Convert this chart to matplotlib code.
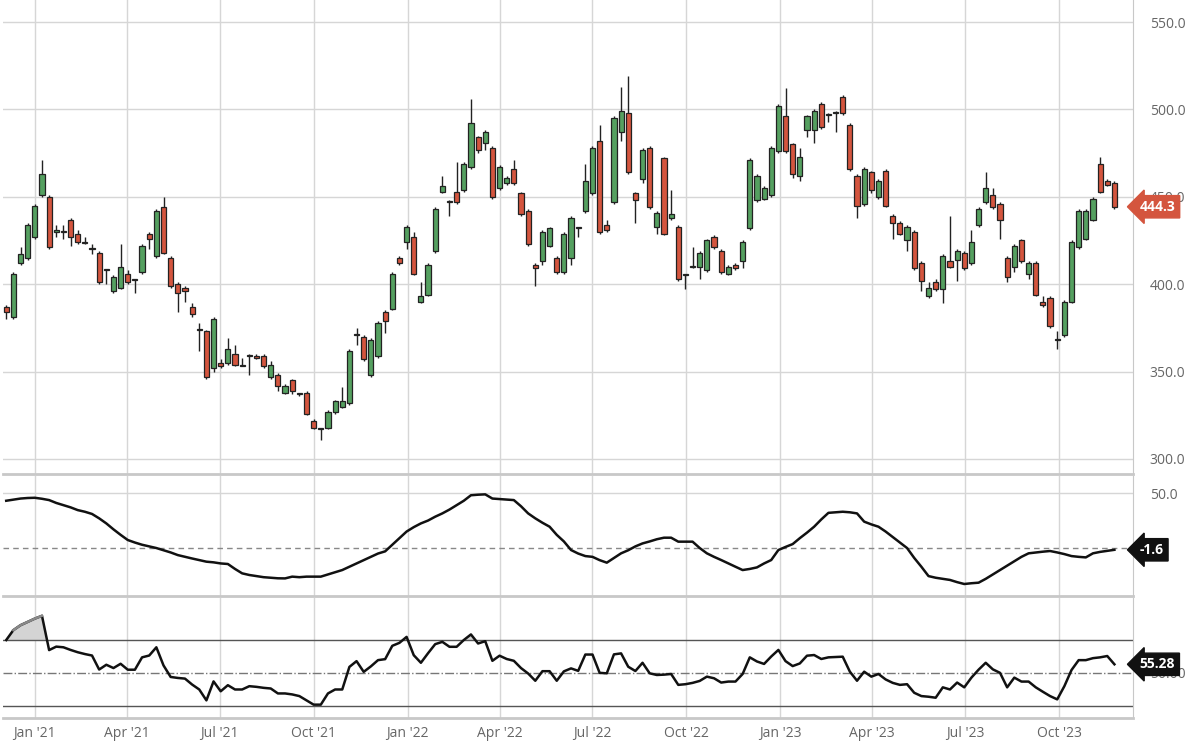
import numpy as np
import pandas as pd
import matplotlib
import matplotlib.pyplot as plt

matplotlib.use("Agg")
plt.rcParams["font.family"] = "Open Sans"

# weekly candles, first bar week of 2020-12-04
START = "2020-12-04"
opens = [387, 381, 412, 415, 427, 451, 450, 430, 430, 437, 429, 423.5, 420, 418, 408, 396, 398, 406, 402.5, 407,
         429, 416, 444, 415, 400, 398, 387, 374, 373, 352, 355, 355, 360, 353, 359, 359, 359, 347, 348, 338,
         345, 337, 338, 322, 317, 318, 327, 330, 332, 371, 370, 348, 359, 384, 386, 415, 424, 427, 390, 394,
         419, 453, 447, 453, 454, 467, 484, 481, 478, 455, 458, 466, 452, 442, 411, 413, 422, 415, 407, 415,
         432, 442, 452, 482, 434, 447, 487, 498, 452, 460, 478, 433, 472, 438, 433, 405, 410, 410, 408, 427,
         419, 406, 411, 413, 432, 448, 449, 451, 476, 496, 480, 462, 488, 488, 503, 497, 498, 507, 491, 462,
         446, 464, 450, 465, 439, 435, 425, 430, 412, 393, 401, 397, 413, 414, 418, 412, 434, 447, 451, 446,
         415, 410, 425, 406, 412, 390, 392, 368, 371, 390, 421, 426, 437, 469, 459, 458]
closes = [384, 406, 417, 434, 445, 463, 421, 431, 430.5, 427, 424, 423, 420.5, 401, 407.5, 404, 410, 401, 402, 422,
          426, 442, 418, 399, 395, 396, 383, 374.5, 347, 380, 353, 363, 354, 353.5, 359.5, 358, 353, 354, 342, 342,
          339, 337.5, 326, 318, 317.5, 327, 333, 333, 362, 371.5, 357, 368, 378, 379, 406, 412, 433, 406, 393, 411,
          443, 456, 447.5, 447, 469, 492, 477, 487, 450, 467, 461, 458, 440, 423, 409, 430, 432, 407, 429, 438,
          432.5, 459, 478, 430, 431, 495, 499, 464, 448, 477, 444, 441, 429, 440, 403, 405.5, 410.5, 418, 425, 421,
          407, 410, 409, 424, 471, 462, 455, 478, 502, 476, 463, 473, 496, 499, 490, 497.5, 498.5, 498, 466, 445,
          466, 454, 459, 445, 435, 429, 433, 409, 402, 398, 397, 416, 410, 419, 409, 424, 443, 455, 444, 437,
          404, 422, 413, 412, 394, 388, 376, 368.5, 390, 424, 442, 442, 449, 453, 457, 444.3]
highs = [388, 407, 421, 435, 446, 471, 451, 434, 434, 438, 431, 427, 423, 419, 408.5, 405, 423, 408, 402.5, 423,
         430, 443, 450, 416, 401, 399, 389, 378, 374, 381, 357, 369, 365, 358, 360, 360, 360, 356, 349, 343,
         346, 338, 339, 323, 318, 328, 334, 341, 363, 375, 371, 369, 379, 385, 407, 416, 434, 430, 401, 412,
         444, 462, 448, 470, 470, 506, 485, 488, 479, 468, 462, 471, 453, 443, 412, 431, 433, 416, 430, 439,
         433, 469, 479, 491, 437, 496, 513, 519, 453, 478, 479, 442, 473, 454, 434, 406, 421, 419, 426, 428,
         420, 411, 412, 425, 472, 463, 456, 479, 503, 512, 481, 478, 497, 500, 504, 498, 499, 508, 492, 463,
         467, 465, 460, 466, 440, 436, 434, 431, 413, 401, 403, 417, 439, 420, 419, 431, 444, 464, 455, 447,
         416, 423, 426, 413, 413, 393, 393, 373, 391, 425, 443, 443, 450, 473, 460, 459]
lows = [380, 380, 411, 414, 426, 450, 420, 427, 426, 422, 423, 423, 417, 400, 400, 395, 397, 400, 395, 406,
        420, 415, 417, 398, 384, 390, 381, 362, 346, 350, 352, 354, 353, 353, 348, 357, 352, 346, 339, 337,
        337, 336, 325, 317, 311, 317, 326, 329, 331, 365, 356, 347, 358, 372, 385, 411, 420, 405, 389, 393,
        418, 452, 439, 446, 453, 466, 475, 477, 449, 454, 457, 457, 439, 422, 399, 411, 421, 406, 406, 411,
        427, 441, 451, 429, 430, 446, 482, 463, 435, 458, 443, 429, 428, 437, 402, 397, 409, 403, 407, 420,
        406, 405, 408, 409, 431, 447, 448, 450, 475, 475, 461, 459, 484, 481, 489, 493, 487, 497, 465, 438,
        445, 452, 449, 444, 426, 428, 419, 408, 396, 392, 396, 389, 409, 402, 408, 411, 433, 446, 443, 426,
        401, 407, 412, 403, 393, 387, 375, 363, 370, 389, 420, 425, 436, 452, 456, 443]

# middle panel oscillator (weekly)
osc = [43, 44, 45, 45.5, 45.7, 44.8, 43.6, 41, 39, 37, 34.5, 33, 31, 27, 22.4, 17, 12, 7.3, 5, 3,
       1.5, 0, -2, -4, -6.4, -8, -9.5, -11, -12.4, -13, -14, -14.5, -19, -23, -24.5, -25.5, -26.5, -27, -27.5, -27.6,
       -26, -26.5, -26, -26, -26, -24, -22, -20, -17, -14, -11, -8, -5, -3, 3, 9, 15, 19, 22.4, 25,
       28.5, 31.5, 35, 39, 43, 48, 48.5, 48.8, 45, 44.5, 44, 43.6, 38, 31.5, 27, 23, 19.4, 12, 6, -1.8,
       -5, -7.3, -8, -11, -13.3, -9, -4.8, -2, 1.5, 4.2, 6, 8, 9.4, 9.4, 5.8, 5.8, 5.8, 0, -4.8, -8,
       -10.9, -14, -17, -20, -19, -17.6, -14, -10.9, -1.8, 1, 3.6, 9, 14, 19.4, 26, 32, 32.5, 33, 32.5, 31.5,
       24, 21.5, 19.4, 15, 10, 5, 0, -9, -17, -25.5, -27, -28, -29, -31, -32.7, -32, -31.5, -28, -24, -20,
       -16, -12, -8, -4.8, -4, -3.3, -2.7, -4, -5.5, -7.3, -8, -8.5, -4.8, -3.5, -2.5, -1.6]

# bottom panel RSI (weekly)
rsi = [70, 76, 79, 81, 83, 84.7, 63.9, 66, 65.6, 64, 62.6, 61.5, 60.6, 52.1, 55, 53, 55.6, 52, 52, 59.5,
       60.6, 65.6, 54.6, 47.6, 47, 46.6, 43, 40, 33.4, 44.9, 38.9, 42.6, 40, 40, 42, 41.6, 41, 40.6, 37.6, 37.6,
       37, 36, 33.4, 30.8, 30.8, 37.6, 40, 40, 53.7, 57.2, 50.7, 54, 57.8, 58.4, 66.5, 68.3, 71.9, 60.8, 56.2, 62,
       67.5, 68.9, 65.9, 65.9, 70, 73.4, 67.9, 69.3, 57.4, 60.5, 58.5, 57.4, 53, 49.7, 45.3, 51.1, 51.1, 45.3, 51, 52.8,
       51.3, 61.2, 61.2, 50.1, 49.8, 61.3, 61.9, 53.8, 51.2, 56.2, 49.8, 48.8, 49, 49.4, 42.8, 43.2, 44, 45.2, 47.8, 46.8,
       44.2, 44.8, 44.8, 49.4, 59.5, 57, 55.5, 60, 64, 57.2, 54.2, 55.8, 60.5, 60.9, 58.5, 59.5, 59.7, 59.9, 50.8, 45.3,
       50.8, 47.8, 49.4, 46.1, 44, 42.8, 43.2, 38, 36, 35.6, 35, 41.3, 40, 44.2, 41.3, 47.2, 52, 56.2, 52.2, 50.1,
       41.3, 47.2, 44.8, 44.8, 41.3, 38.6, 36, 34, 42, 51.8, 57.8, 57.8, 59, 59.5, 60.3, 55.28]

quarter_dates = ["2021-01-01", "2021-04-01", "2021-07-01", "2021-10-01", "2022-01-01", "2022-04-01",
                 "2022-07-01", "2022-10-01", "2023-01-01", "2023-04-01", "2023-07-01", "2023-10-01"]
quarter_labels = ["Jan '21", "Apr '21", "Jul '21", "Oct '21", "Jan '22", "Apr '22",
                  "Jul '22", "Oct '22", "Jan '23", "Apr '23", "Jul '23", "Oct '23"]
price_ticks = [300, 350, 400, 450, 500, 550]

GREEN = "#55a060"
RED = "#d4553e"
GRID = "#d6d6d6"
TXT = "#666666"

o, h, l, c = map(np.array, (opens, highs, lows, closes))
x = np.arange(len(c))
qpos = [(pd.Timestamp(d) - pd.Timestamp(START)).days / 7 for d in quarter_dates]

fig = plt.figure(figsize=(12, 7.55), dpi=100)
W = 1130 / 1200
ax1 = fig.add_axes([3 / 1200, 1 - 474 / 755, W, 474 / 755])
ax2 = fig.add_axes([3 / 1200, 1 - 596 / 755, W, 120 / 755])
ax3 = fig.add_axes([3 / 1200, 1 - 718 / 755, W, 120 / 755])

for ax in (ax1, ax2, ax3):
    ax.set_xlim(-0.45, 157.6)
    for q in qpos:
        ax.axvline(q, color=GRID, lw=1, zorder=0)
    ax.yaxis.tick_right()
    ax.tick_params(axis="y", length=0, labelsize=10, labelcolor=TXT, pad=12)
    ax.tick_params(axis="x", length=0)
    for s in ax.spines.values():
        s.set_color("#c8c8c8")
    ax.spines["top"].set_visible(False)
    ax.spines["left"].set_visible(False)
    ax.spines["bottom"].set_linewidth(2)
    ax.set_xticks([])

# price
up = c >= o
cols = np.where(up, GREEN, RED)
ax1.vlines(x, l, h, color="#222222", lw=1, zorder=2)
body = np.where(np.abs(c - o) < 0.6, 0.6, c - o)
ax1.bar(x, body, bottom=o, width=0.72, color=cols, edgecolor="#222222", lw=0.9, zorder=3)
ax1.set_ylim(291.4, 562.6)
ax1.set_yticks(price_ticks)
ax1.set_yticklabels([f"{v:.1f}" for v in price_ticks])
for v in price_ticks:
    ax1.axhline(v, color=GRID, lw=1, zorder=0)
ax1.text(1.006, (c[-1] - 291.4) / (562.6 - 291.4), f"{c[-1]:.1f}", transform=ax1.transAxes,
         ha="left", va="center", color="white", fontsize=10, fontweight="bold",
         bbox=dict(boxstyle="larrow,pad=0.3", fc=RED, ec=RED))

# oscillator
ax2.plot(x, osc, color="#111111", lw=1.8, zorder=3)
ax2.axhline(0, color="#888888", lw=1, ls=(0, (4, 3)))
ax2.axhline(50, color=GRID, lw=1, zorder=0)
ax2.set_ylim(-43.6, 65.5)
ax2.set_yticks([50])
ax2.set_yticklabels(["50.0"])
ax2.text(1.006, (osc[-1] + 43.6) / 109.1, f"{osc[-1]:.1f}", transform=ax2.transAxes,
         ha="left", va="center", color="white", fontsize=10, fontweight="bold",
         bbox=dict(boxstyle="larrow,pad=0.3", fc="#111111", ec="#111111"))

# rsi
r = np.array(rsi)
ax3.fill_between(x, 70, r, where=r >= 70, interpolate=True, color="#d4d4d4", zorder=1)
ax3.plot(x, r, color="#111111", lw=1.8, zorder=3)
ax3.plot(np.ma.masked_less(np.maximum(r, 70), 70.01), color="#888888", lw=1.8, zorder=4)
ax3.axhline(70, color="#555555", lw=1)
ax3.axhline(30, color="#555555", lw=1)
ax3.axhline(50, color="#777777", lw=1, ls="-.")
ax3.set_ylim(22.7, 95.5)
ax3.set_yticks([50])
ax3.set_yticklabels(["50.00"])
ax3.text(1.006, (r[-1] - 22.7) / 72.8, f"{r[-1]:.2f}", transform=ax3.transAxes,
         ha="left", va="center", color="white", fontsize=10, fontweight="bold",
         bbox=dict(boxstyle="larrow,pad=0.3", fc="#111111", ec="#111111"), zorder=10)
ax3.set_xticks(qpos)
ax3.set_xticklabels(quarter_labels, fontsize=10, color=TXT)
ax3.tick_params(axis="x", pad=6)

fig.savefig("out.png", dpi=100)
